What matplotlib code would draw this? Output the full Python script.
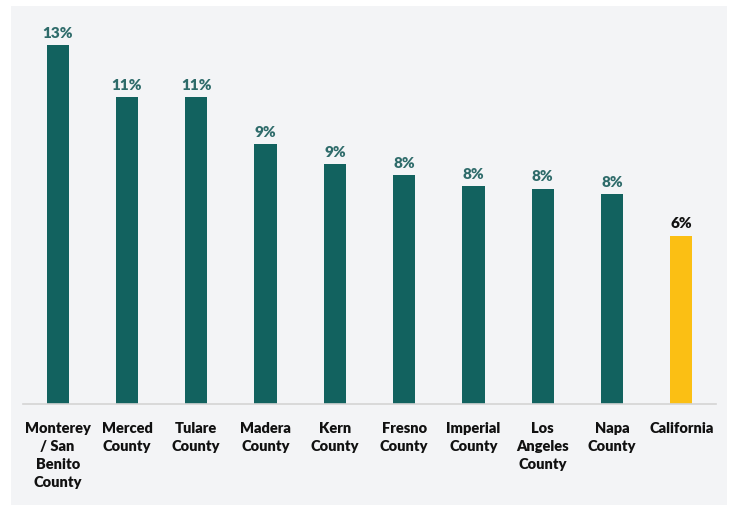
import matplotlib.pyplot as plt
from matplotlib.patches import Rectangle

# data (percent)
counties = ['Monterey\n/ San\nBenito\nCounty', 'Merced\nCounty', 'Tulare\nCounty',
            'Madera\nCounty', 'Kern\nCounty', 'Fresno\nCounty', 'Imperial\nCounty',
            'Los\nAngeles\nCounty', 'Napa\nCounty', 'California']
values = [13.0, 11.1, 11.1, 9.4, 8.7, 8.3, 7.9, 7.8, 7.6, 6.1]

teal = '#12625f'
gold = '#fbbf14'
colors = [teal] * 9 + [gold]
label_colors = ['#2e6b6a'] * 9 + ['#111111']

plt.rcParams['font.family'] = ['Lato', 'DejaVu Sans']

fig = plt.figure(figsize=(7.32, 5.06), dpi=100)
fig.patch.set_facecolor('white')
# gray panel behind the chart
fig.patches.append(Rectangle((11 / 732, 0), (727 - 11) / 732, 1 - 7 / 506,
                             transform=fig.transFigure, facecolor='#f3f4f6',
                             edgecolor='none', zorder=-10))

ax = fig.add_axes([23 / 732, 1 - 405 / 506, (716 - 23) / 732, (405 - 10) / 506])
ax.set_facecolor('none')

x = range(len(values))
ax.bar(x, values, width=0.32, color=colors, zorder=2)

for i, v in enumerate(values):
    ax.text(i, v + 0.22, f'{v:.0f}%', ha='center', va='bottom', fontsize=11,
            fontweight='heavy', color=label_colors[i])

ax.set_xlim(-0.5, len(values) - 0.5)
ax.set_ylim(0, 14.3)
ax.set_xticks(list(x))
ax.set_xticklabels(counties, fontsize=10.5, fontweight='heavy', color='#111111',
                   linespacing=1.45, va='top')
ax.tick_params(axis='x', length=0, pad=12)
ax.set_yticks([])

for side in ['top', 'right', 'left']:
    ax.spines[side].set_visible(False)
ax.spines['bottom'].set_color('#d4d4d4')
ax.spines['bottom'].set_linewidth(1.2)

plt.savefig('out.png', dpi=100)
